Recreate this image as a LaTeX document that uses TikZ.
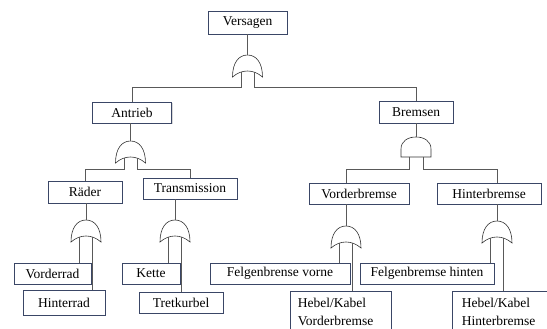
\documentclass[tikz,border=0pt]{standalone}
\usepackage{fontspec}
\setmainfont{Liberation Serif}
\usetikzlibrary{shadows}

\definecolor{boxline}{RGB}{58,70,102}

\tikzset{
	orgate/.pic={
		\draw[gate] (-15,0) .. controls (-15,-14) and (-9,-22) .. (0,-22)
			.. controls (9,-22) and (15,-14) .. (15,0)
			.. controls (6,-8) and (-6,-8) .. cycle;
		\coordinate (-top) at (0,-22);
		\coordinate (-l) at (-6.5,-5);
		\coordinate (-r) at (6.5,-5);
	},
	andgate/.pic={
		\draw[gate] (-15,0) -- (-15,-8) .. controls (-15,-16) and (-8,-20) .. (0,-20)
			.. controls (8,-20) and (15,-16) .. (15,-8) -- (15,0) -- cycle;
		\coordinate (-top) at (0,-20);
		\coordinate (-l) at (-7,0);
		\coordinate (-r) at (7,0);
	}
}

\begin{document}
\begin{tikzpicture}[
		x=1pt, y=-1pt,
		box/.style = {draw=boxline, line width=0.7pt, fill=white, inner sep=0pt,
			minimum height=21pt, font=\fontsize{13.5}{18}\selectfont,
			drop shadow={shadow xshift=1pt, shadow yshift=-1pt, fill=black!30}},
		twoline/.style = {box, anchor=north west, align=left, text width=86pt,
			inner xsep=7pt, minimum height=42pt},
		gate/.style = {draw=black!80, line width=0.6pt, fill=white},
		wire/.style = {draw=black!65, line width=0.6pt}
	]
	\clip (0,0) rectangle (547,329);
	\fill[white] (0,0) rectangle (547,329);
	% events
	\node[box, minimum width=79pt, minimum height=23pt] (versagen) at (247.5,22.5) {Versagen};
	\node[box, minimum width=79pt] (antrieb) at (132,112.5) {Antrieb};
	\node[box, minimum width=74pt, minimum height=22pt] (bremsen) at (416,112) {Bremsen};
	\node[box, minimum width=74pt, minimum height=22pt] (raeder) at (85,192) {Räder};
	\node[box, minimum width=94pt] (transmission) at (190,188.5) {Transmission};
	\node[box, minimum width=100pt] (vorderbremse) at (359,193.5) {Vorderbremse};
	\node[box, minimum width=104pt] (hinterbremse) at (489,193.5) {Hinterbremse};
	\node[box, minimum width=77pt] (vorderrad) at (52.5,273.5) {Vorderrad};
	\node[box, minimum width=82pt, minimum height=25pt] (hinterrad) at (64,302.5) {Hinterrad};
	\node[box, minimum width=58pt] (kette) at (151,273.5) {Kette};
	\node[box, minimum width=84pt] (tretkurbel) at (181,302.5) {Tretkurbel};
	\node[box, minimum width=140pt] (felgenvorne) at (280,273.5) {Felgenbrense vorne};
	\node[box, minimum width=134pt] (felgenhinten) at (427,273.5) {Felgenbremse hinten};
	\node[twoline, minimum width=101pt] (hebelvorne) at (290,291) {Hebel/Kabel\\Vorderbremse};
	\node[twoline, minimum width=105pt] (hebelhinten) at (452,291) {Hebel/Kabel\\Hinterbremse};
	% gates
	\pic (gV) at (247.5,77) {orgate};
	\pic (gA) at (130.5,163) {orgate};
	\pic (gB) at (416,157) {andgate};
	\pic (gR) at (86,242) {orgate};
	\pic (gT) at (175,242) {orgate};
	\pic (gVB) at (346,248) {orgate};
	\pic (gHB) at (497,243) {orgate};
	% connectors
	\draw[wire] (versagen.south) -- (gV-top);
	\draw[wire] (gV-l) -- ++(0,15) -| (antrieb.north);
	\draw[wire] (gV-r) -- ++(0,15) -| (bremsen.north);
	\draw[wire] (gA-top) -- (gA-top |- antrieb.south);
	\draw[wire] (gA-l) -- ++(0,11) -| (raeder.north);
	\draw[wire] (gA-r) -- ++(0,11) -| (transmission.north);
	\draw[wire] (gB-top) -- (gB-top |- bremsen.south);
	\draw[wire] (gB-l) -- ++(0,12) -| (gVB-top |- vorderbremse.north);
	\draw[wire] (gB-r) -- ++(0,12) -| (gHB-top |- hinterbremse.north);
	\draw[wire] (gR-top) -- (gR-top |- raeder.south);
	\draw[wire] (gR-l) -- (gR-l |- vorderrad.north);
	\draw[wire] (gR-r) -- (gR-r |- hinterrad.north);
	\draw[wire] (gT-top) -- (gT-top |- transmission.south);
	\draw[wire] (gT-l) -- (gT-l |- kette.north);
	\draw[wire] (gT-r) -- (gT-r |- tretkurbel.north);
	\draw[wire] (gVB-top) -- (gVB-top |- vorderbremse.south);
	\draw[wire] (gVB-l) -- (gVB-l |- felgenvorne.north);
	\draw[wire] (gVB-r) -- (gVB-r |- hebelvorne.north);
	\draw[wire] (gHB-top) -- (gHB-top |- hinterbremse.south);
	\draw[wire] (gHB-l) -- (gHB-l |- felgenhinten.north);
	\draw[wire] (gHB-r) -- (gHB-r |- hebelhinten.north);
\end{tikzpicture}
\end{document}
